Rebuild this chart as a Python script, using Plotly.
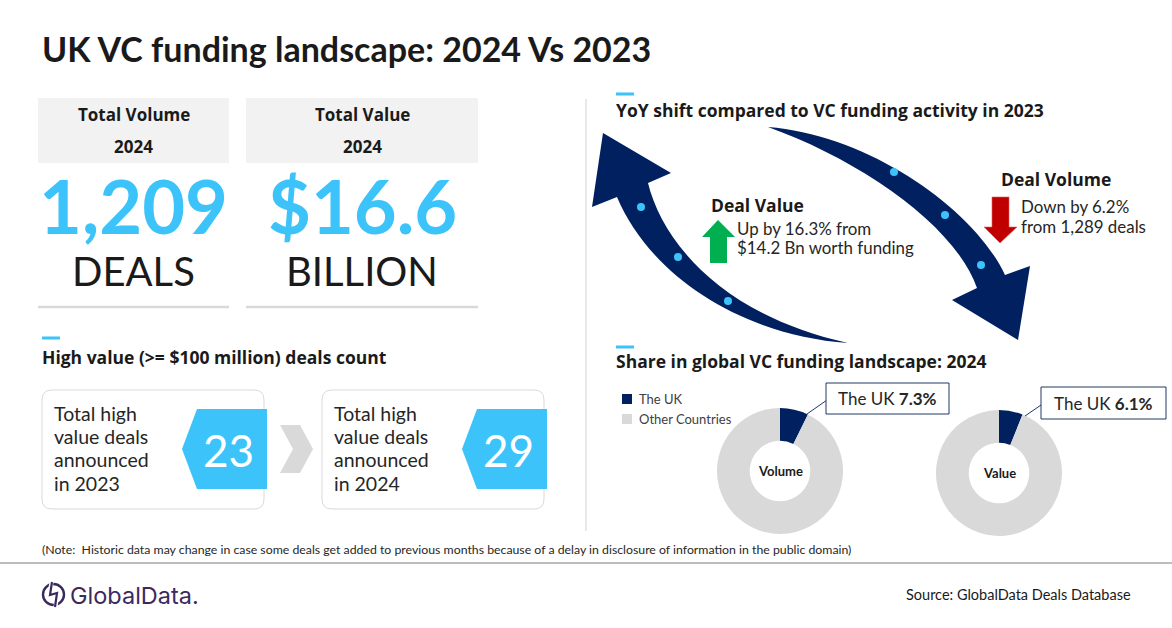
import plotly.graph_objects as go

total_labels = ["Total Volume<br>2024", "Total Value<br>2024"]
total_values = ["1,209", "$16.6"]
total_units = ["DEALS", "BILLION"]

high_value_years = [2023, 2024]
high_value_counts = [23, 29]

yoy_titles = ["Deal Value", "Deal Volume"]
yoy_change_pct = [16.3, -6.2]
prev_year_base = ["$14.2 Bn worth funding", "1,289 deals"]

share_labels = ["The UK", "Other Countries"]
share_metrics = ["Volume", "Value"]
uk_share_pct = [7.3, 6.1]

W, H = 1172, 628
FONT = "Lato"
HEAD = "Open Sans"
BLUE = "#3cc3fa"
NAVY = "#002060"
GREY = "#d9d9d9"
TXT = "#262626"
share_colors = [NAVY, GREY]

fig = go.Figure()

# ---- donuts (share in global VC funding) ----
donut_centres = [(780, 471), (999, 473)]
R = 63
for metric, uk, (cx, cy) in zip(share_metrics, uk_share_pct, donut_centres):
    fig.add_trace(go.Pie(
        labels=share_labels,
        values=[uk, 100 - uk],
        hole=0.48,
        sort=False,
        direction="clockwise",
        rotation=0,
        textinfo="none",
        marker=dict(colors=share_colors, line=dict(width=0)),
        domain=dict(x=[(cx - R) / W, (cx + R) / W],
                    y=[1 - (cy + R) / H, 1 - (cy - R) / H]),
        name=metric,
        showlegend=False,
        hovertemplate="%{label}: %{value}%<extra>" + metric + "</extra>",
    ))

shapes = []
annots = []


def txt(x, y, s, size=14, color=TXT, bold=False, xanchor="left", family=FONT):
    if bold:
        s = "<b>" + s + "</b>"
    annots.append(dict(x=x, y=y, xref="x", yref="y", text=s, showarrow=False,
                       xanchor=xanchor, yanchor="middle", align=xanchor if xanchor != "center" else "center",
                       font=dict(size=size, color=color, family=family)))


def line(x0, y0, x1, y1, color=GREY, width=1):
    shapes.append(dict(type="line", x0=x0, y0=y0, x1=x1, y1=y1, xref="x", yref="y",
                       line=dict(color=color, width=width)))


def rect(x0, y0, x1, y1, fill="rgba(0,0,0,0)", color="rgba(0,0,0,0)", width=0):
    shapes.append(dict(type="rect", x0=x0, y0=y0, x1=x1, y1=y1, xref="x", yref="y",
                       fillcolor=fill, line=dict(color=color, width=width)))


def path(d, fill, color=None, width=0):
    shapes.append(dict(type="path", path=d, xref="x", yref="y", fillcolor=fill,
                       line=dict(color=color or fill, width=width)))


# ---- title ----
txt(40, 48, "UK VC funding landscape: 2024 Vs 2023", size=34, color="#1a1a1a", bold=True)

# ---- totals ----
box_x = [(38, 229), (246, 478)]
for (x0, x1), lab, val, unit in zip(box_x, total_labels, total_values, total_units):
    cx = (x0 + x1) / 2
    rect(x0, 98, x1, 163, fill="#f2f2f2")
    top, bottom = lab.split("<br>")
    txt(cx, 114, top, size=17, color="#1a1a1a", bold=True, xanchor="center", family=HEAD)
    txt(cx, 146, bottom, size=17, color="#1a1a1a", bold=True, xanchor="center", family=HEAD)
    txt(cx, 205, val, size=74, color=BLUE, bold=True, xanchor="center")
    txt(cx, 271, unit, size=40, color="#1a1a1a", xanchor="center")
    line(x0, 307, x1, 307, color=GREY, width=2.5)

# divider
line(586, 99, 586, 531, color=GREY, width=1.2)

# ---- high value deals ----
line(42, 338, 60, 338, color=BLUE, width=3)
txt(40, 357, "High value (>= $100 million) deals count", size=17.5, color="#1a1a1a", bold=True, family=HEAD)

hv_boxes = [(42, 264), (322, 544)]
for (x0, x1), yr, cnt in zip(hv_boxes, high_value_years, high_value_counts):
    r = 10
    d = (f"M {x0+r},390 L {x1-r},390 Q {x1},390 {x1},{390+r} L {x1},{509-r} "
         f"Q {x1},509 {x1-r},509 L {x0+r},509 Q {x0},509 {x0},{509-r} "
         f"L {x0},{390+r} Q {x0},390 {x0+r},390 Z")
    path(d, fill="white", color=GREY, width=1)
    lines = ["Total high", "value deals", "announced", f"in {yr}"]
    for i, s in enumerate(lines):
        txt(x0 + 10, 413 + i * 23.4, s, size=19.5, color=TXT)
    bx = x1 + 3
    path(f"M {bx-70},409 L {bx},409 L {bx},489 L {bx-70},489 L {bx-85},449 Z", fill=BLUE)
    txt(bx - 39, 450, str(cnt), size=44, color="white", xanchor="center")

# chevron between boxes
path("M 280,425 L 300,425 L 313,449 L 300,473 L 280,473 L 293,449 Z", fill=GREY)

# ---- YoY shift ----
line(616, 94, 634, 94, color=BLUE, width=3)
txt(614, 110, "YoY shift compared to VC funding activity in 2023", size=17.5, color="#1a1a1a", bold=True, family=HEAD)

# curved arrows
path("M 603,133 L 671,173 L 648,183 C 662,240 720,315 848,343 "
     "C 740,335 650,275 617,197 L 592,207 Z", fill=NAVY)
path("M 768,127 C 870,135 975,210 1005,275 L 1030,266 L 1018,340 L 952,300 L 977,288 "
     "C 955,225 860,160 768,127 Z", fill=NAVY)
for (dx, dy) in [(641, 207), (678, 257), (728, 301), (894, 172), (945, 215), (981, 265)]:
    shapes.append(dict(type="circle", x0=dx - 4, y0=dy - 4, x1=dx + 4, y1=dy + 4,
                       xref="x", yref="y", fillcolor=BLUE, line=dict(width=0)))

# green up arrow / red down arrow
path("M 710,263 L 710,237 L 702,237 L 718,220 L 735,237 L 727,237 L 727,263 Z", fill="#00b050")
path("M 992,197 L 1009,197 L 1009,227 L 1017,227 L 1000,243 L 984,227 L 992,227 Z",
     fill="#c00000", color="#e06060", width=0.6)

up, down = yoy_change_pct
txt(709, 205, yoy_titles[0], size=17.5, color="#1a1a1a", bold=True, family=HEAD)
txt(735, 228, f"Up by {up}% from", size=16.9, color=TXT)
txt(735, 247, prev_year_base[0], size=16.9, color=TXT)
txt(999, 179, yoy_titles[1], size=17.5, color="#1a1a1a", bold=True, family=HEAD)
txt(1019, 206, f"Down by {abs(down)}%", size=16.9, color=TXT)
txt(1019, 226, f"from {prev_year_base[1]}", size=16.9, color=TXT)

# ---- share section ----
line(616, 347, 634, 347, color=BLUE, width=3)
txt(614, 361, "Share in global VC funding landscape: 2024", size=17.5, color="#1a1a1a", bold=True, family=HEAD)

# legend drawn by hand so the swatches sit exactly where the original has them
for i, (lab, col) in enumerate(zip(share_labels, share_colors)):
    yy = 399 + i * 20
    rect(622, yy - 5, 632, yy + 5, fill=col)
    txt(637, yy, lab, size=13, color="#404040")

for metric, (cx, cy) in zip(share_metrics, donut_centres):
    txt(cx, cy, metric, size=13, color="#1a1a1a", bold=True, xanchor="center")

callouts = [((826, 383, 949, 414), (807, 414, 827, 400)),
            ((1041, 387, 1166, 419), (1025, 416, 1041, 405))]
for uk, ((x0, y0, x1, y1), (lx0, ly0, lx1, ly1)) in zip(uk_share_pct, callouts):
    line(lx0, ly0, lx1, ly1, color="#1f3864", width=1)
    rect(x0, y0, x1, y1, fill="white", color="#1f3864", width=1)
    txt((x0 + x1) / 2, (y0 + y1) / 2, f"The UK <b>{uk}%</b>", size=17, color=TXT, xanchor="center")

# ---- footer ----
txt(40, 549, "(Note:  Historic data may change in case some deals get added to previous months "
    "because of a delay in disclosure of information in the public domain)", size=12.3, color=TXT)
line(0, 563, W, 563, color="#a6a6a6", width=1.5)

# logo
shapes.append(dict(type="circle", x0=43, y0=584, x1=64, y1=605, xref="x", yref="y",
                   line=dict(color="#3b2a5e", width=2.4)))
path("M 52,580 L 49,595 L 58,593 L 55,609", fill="rgba(0,0,0,0)", color="white", width=4)
path("M 52,582 L 50,595 L 57,593 L 55,607", fill="rgba(0,0,0,0)", color="#3b2a5e", width=2.2)
txt(68, 595, "GlobalData.", size=23.5, color="#3b2a5e", family="Inter")
txt(1133, 594, "Source: GlobalData Deals Database", size=14.5, color="#1a1a1a", xanchor="right")

fig.update_layout(
    width=W, height=H,
    margin=dict(l=0, r=0, t=0, b=0),
    paper_bgcolor="white", plot_bgcolor="white",
    xaxis=dict(range=[0, W], visible=False, fixedrange=True),
    yaxis=dict(range=[H, 0], visible=False, fixedrange=True),
    shapes=shapes,
    annotations=annots,
    showlegend=False,
    font=dict(family=FONT),
)

# page body has an 8px default margin; drop it so the figure fills the window
fig.write_html("out.html", config={"displayModeBar": False},
               post_script="document.body.style.margin='0';")
